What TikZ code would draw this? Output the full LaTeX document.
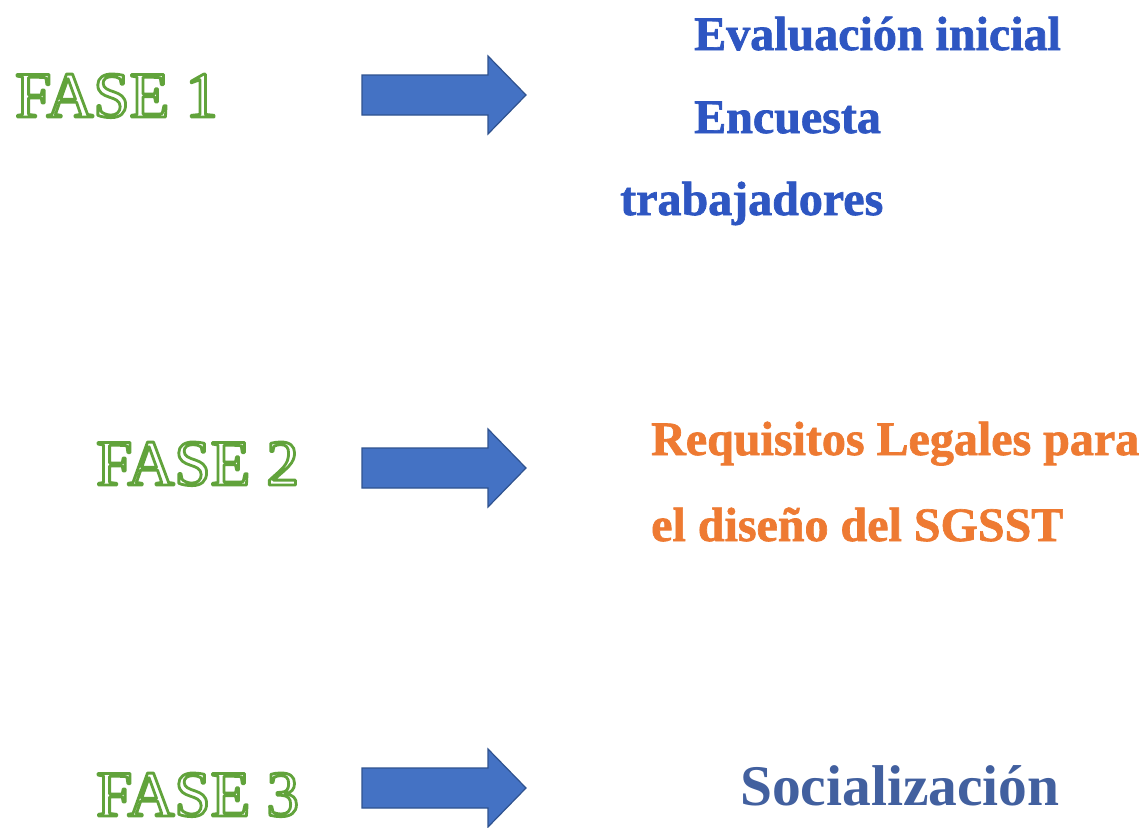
\documentclass[tikz,border=0pt]{standalone}
\usepackage{fontspec}
\setmainfont{Liberation Serif}
\newfontfamily\heavyserif[FakeBold=1.4]{Liberation Serif Bold}
\definecolor{arrfill}{HTML}{4472C4}
\definecolor{arrline}{HTML}{2F528F}
\definecolor{f1blue}{HTML}{2E56C2}
\definecolor{f2orange}{HTML}{EE7A32}
\definecolor{f3blue}{HTML}{42609F}
% white fill + green stroke text (PDF text render mode 2)
\newcommand\greenoutline[1]{{\color{white}\special{pdf:literal direct 2 Tr 2.8 w 1 J 1 j 0.38 0.64 0.23 RG}#1\special{pdf:literal direct 0 Tr}}}
\tikzset{
  fase/.style={anchor=base west, inner sep=0pt, font=\fontsize{65}{65}\selectfont},
  item/.style={anchor=base west, inner sep=0pt, font=\heavyserif\fontsize{48}{48}\selectfont},
  arrowshape/.style={fill=arrfill, draw=arrline, line width=1.2pt, line join=miter},
  fatarrow/.pic={\path[arrowshape] (0,-20) -- (126,-20) -- (126,-39) -- (164,0) -- (126,39) -- (126,20) -- (0,20) -- cycle;}
}
\begin{document}
\begin{tikzpicture}[x=1pt,y=-1pt]
\path[fill=white, use as bounding box] (0,0) rectangle (1148,827);

% FASE labels
\node[fase] (f1) at (15,117) {\greenoutline{FASE 1}};
\node[fase] (f2) at (96,485) {\greenoutline{FASE 2}};
\node[fase] (f3) at (96,816) {\greenoutline{FASE 3}};

% arrows
\pic at (362,95) {fatarrow};
\pic at (362,468) {fatarrow};
\pic at (362,788) {fatarrow};

% phase 1 texts
\node[item, text=f1blue] (t1a) at (694,50) {Evaluación inicial};
\node[item, text=f1blue] (t1b) at (694,133) {Encuesta};
\node[item, text=f1blue] (t1c) at (620,215) {trabajadores};

% phase 2 texts
\node[item, text=f2orange] (t2a) at (651,455) {Requisitos Legales para};
\node[item, text=f2orange] (t2b) at (651,541) {el diseño del SGSST};

% phase 3 text
\node[anchor=base west, inner sep=0pt, text=f3blue, font=\bfseries\fontsize{57.5}{57.5}\selectfont] (t3) at (740,805) {Socialización};
\end{tikzpicture}
\end{document}
